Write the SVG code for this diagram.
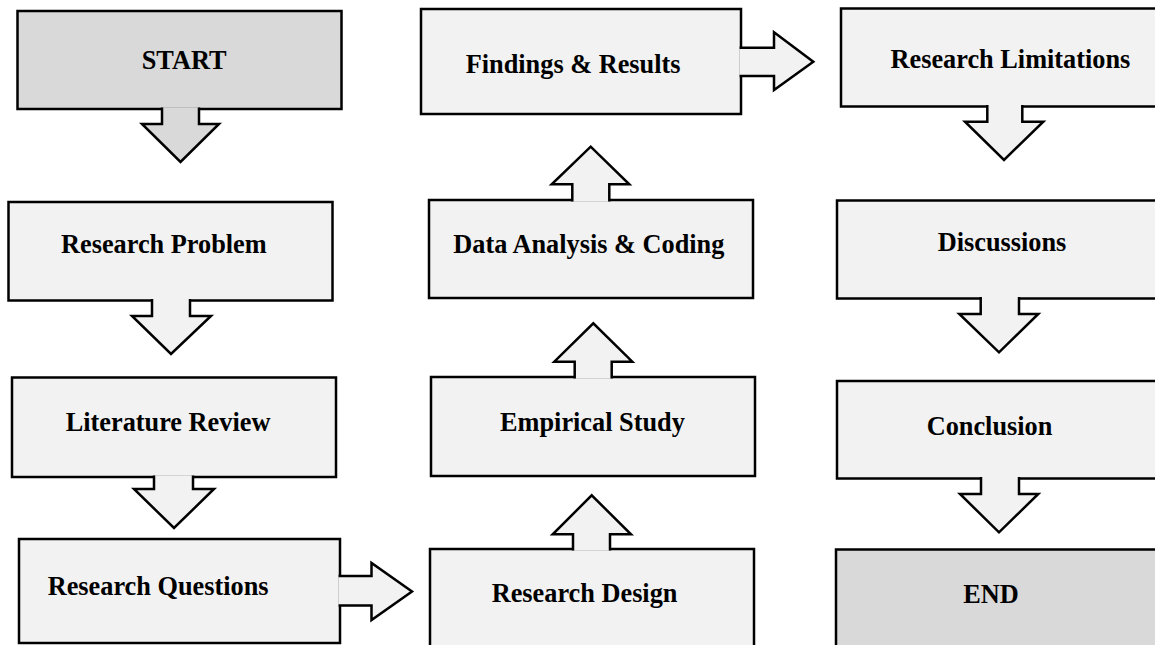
<svg xmlns="http://www.w3.org/2000/svg" width="1155" height="645" viewBox="0 0 1155 645">
  <style>
    .box { stroke: #000; stroke-width: 2.5; stroke-linejoin: miter; }
    .term { fill: #d9d9d9; }
    .step { fill: #f2f2f2; }
    .arrow { stroke: #000; stroke-width: 2.5; stroke-linejoin: miter; }
    .lbl { font-family: "Liberation Serif", "Times New Roman", serif; font-weight: bold; font-size: 26.3px; fill: #000; }
  </style>
  <rect width="1155" height="645" fill="#fff"/>

  <!-- left column -->
  <g id="start">
    <rect class="box term" x="17.5" y="11" width="324" height="98"/>
    <text class="lbl" x="141.7" y="68.5">START</text>
  </g>
  <g id="research-problem">
    <rect class="box step" x="8.5" y="202" width="324" height="98.5"/>
    <text class="lbl" x="61" y="253.3">Research Problem</text>
  </g>
  <g id="literature-review">
    <rect class="box step" x="12" y="377.5" width="324" height="99.5"/>
    <text class="lbl" x="65.7" y="430.7">Literature Review</text>
  </g>
  <g id="research-questions">
    <rect class="box step" x="19" y="539" width="321" height="104"/>
    <text class="lbl" x="47.7" y="595">Research Questions</text>
  </g>

  <!-- middle column -->
  <g id="research-design">
    <rect class="box step" x="430" y="549" width="324" height="110"/>
    <text class="lbl" x="491.7" y="602.3">Research Design</text>
  </g>
  <g id="empirical-study">
    <rect class="box step" x="431" y="377" width="324" height="99"/>
    <text class="lbl" x="500" y="430.7">Empirical Study</text>
  </g>
  <g id="data-analysis">
    <rect class="box step" x="429" y="200" width="324" height="98"/>
    <text class="lbl" x="453.3" y="253.3">Data Analysis &amp; Coding</text>
  </g>
  <g id="findings">
    <rect class="box step" x="421" y="9" width="320" height="105"/>
    <text class="lbl" x="465.7" y="73">Findings &amp; Results</text>
  </g>

  <!-- right column -->
  <g id="limitations">
    <rect class="box step" x="841" y="8.5" width="330" height="98"/>
    <text class="lbl" x="890.5" y="68.3">Research Limitations</text>
  </g>
  <g id="discussions">
    <rect class="box step" x="837" y="200.5" width="330" height="98"/>
    <text class="lbl" x="937.7" y="250.7">Discussions</text>
  </g>
  <g id="conclusion">
    <rect class="box step" x="837" y="381" width="330" height="97.5"/>
    <text class="lbl" x="926.7" y="435">Conclusion</text>
  </g>
  <g id="end">
    <rect class="box term" x="836" y="549.5" width="330" height="110"/>
    <text class="lbl" x="963.3" y="603.3">END</text>
  </g>

  <!-- block arrows: each starts just inside its source box so the fill hides the box edge -->
  <g id="connectors">
    <path class="arrow term" d="M162,107.6 V124 H142 L180.5,162 L219,124 H199 V107.6"/>
    <path class="arrow step" d="M152,299.1 V316 H132 L171,354 L211,316 H190 V299.1"/>
    <path class="arrow step" d="M154,475.6 V489 H134 L174,528 L214,489 H193 V475.6"/>
    <path class="arrow step" d="M338.6,576 H371.5 V563 L412,591.5 L371.5,620 V605.5 H338.6"/>
    <path class="arrow step" d="M573,550.4 V534.3 H552.7 L591.7,495.3 L631,534.3 H610 V550.4"/>
    <path class="arrow step" d="M574.7,378.4 V361.7 H554.3 L593.3,323.3 L632.3,361.7 H611.7 V378.4"/>
    <path class="arrow step" d="M572.3,201.4 V184.3 H551.7 L590.7,146.7 L629.3,184.3 H609.3 V201.4"/>
    <path class="arrow step" d="M739.6,47.7 H774 V32.3 L813.3,61.7 L774,90 V76 H739.6"/>
    <path class="arrow step" d="M987.3,105.1 V121.7 H965 L1004,160 L1043.3,121.7 H1022.3 V105.1"/>
    <path class="arrow step" d="M980.7,297.1 V314 H959.3 L999,352.3 L1038.3,314 H1019 V297.1"/>
    <path class="arrow step" d="M981,477.1 V494 H960 L999,532.3 L1038.3,494 H1019 V477.1"/>
  </g>
</svg>
